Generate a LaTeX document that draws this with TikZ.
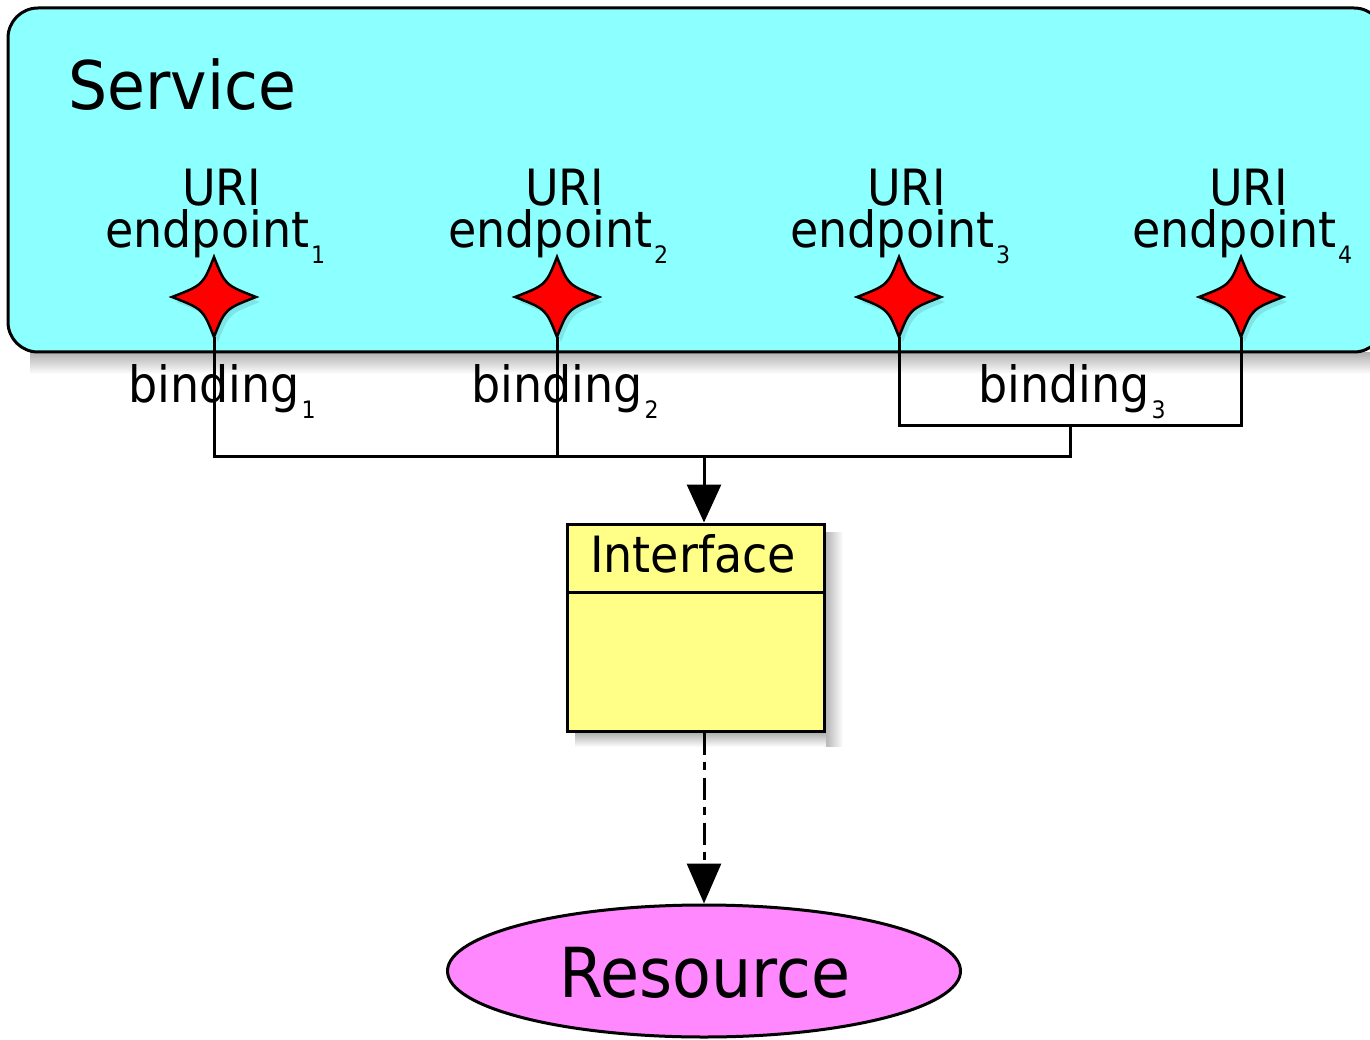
\documentclass[tikz,border=0pt]{standalone}
\usepackage{fontspec}
\setmainfont[FakeStretch=0.92]{DejaVu Sans}
\usetikzlibrary{arrows.meta,shapes.geometric,calc}
\definecolor{svcfill}{RGB}{140,255,255}
\definecolor{ifcfill}{RGB}{255,255,136}
\definecolor{resfill}{RGB}{255,136,255}
\newcommand\fsz[1]{\fontsize{#1}{#1}\selectfont}
\newcommand\subs[1]{\hspace{2pt}\raisebox{-16pt}{\fsz{24}#1}}
\begin{document}
\begin{tikzpicture}[x=1pt,y=-1pt,
  lbl/.style={inner sep=0pt, anchor=base west, font=\fsz{50}},
  conn/.style={line width=3pt, line join=miter},
  starshape/.pic={
    \fill[black,opacity=0.10] (4,-35) .. controls (15,-7) .. (46,5) .. controls (15,17) .. (4,45) .. controls (-7,17) .. (-38,5) .. controls (-7,-7) .. cycle;
    \draw[fill=red, line width=2.5pt, line join=miter] (0,-40) .. controls (11,-12) .. (42,0) .. controls (11,12) .. (0,40) .. controls (-11,12) .. (-42,0) .. controls (-11,-12) .. cycle;
  }]
\clip (0,0) rectangle (1370,1040);
\fill[white] (0,0) rectangle (1370,1040);
% service shadow
\shade[top color=black!30, bottom color=white] (30,353) rectangle (1370,374);
% service box
\node[draw, fill=svcfill, rounded corners=30pt, minimum width=1376pt, minimum height=344pt, inner sep=0pt, line width=3pt] (svc) at (696,180) {};
\node[inner sep=0pt, anchor=base west, font=\fsz{67}] (svctxt) at (68,110) {Service};
% endpoints
\foreach \i/\x in {1/214,2/557,3/899,4/1241}{
  \coordinate (e\i) at (\x,297);
  \coordinate (b\i) at (\x,337);
  \pic at (e\i) {starshape};
  \node[lbl] (uri\i) at (\x-32,206) {URI};
  \node[lbl] (ep\i) at (\x-109,248) {endpoint\subs{\i}};
}
% binding labels
\node[lbl] (bd1) at (128,402) {binding\subs{1}};
\node[lbl] (bd2) at (471,402) {binding\subs{2}};
\node[lbl] (bd3) at (978,402) {binding\subs{3}};
% connectors
\coordinate (j) at (704,456);
\coordinate (j3) at (1070,425);
\draw[conn] (b1) |- (j3 |- j) -- (j3);
\draw[conn] (b2) -- (b2 |- j);
\draw[conn] (b3) |- (j3) -| (b4);
% interface shadow
\shade[left color=black!30, right color=white] (825,532) rectangle (843,746);
\shade[top color=black!30, bottom color=white] (575,733) rectangle (826,747);
% interface
\node[draw, fill=ifcfill, minimum width=257pt, minimum height=207pt, inner sep=0pt, line width=3pt] (iface) at (695.5,627.5) {};
\draw[line width=3pt] ([yshift=-70pt]iface.north west) -- ([yshift=-70pt]iface.north east);
\node[lbl] (ifctxt) at (590,572) {Interface};
% resource
\node[ellipse, draw, fill=resfill, minimum width=513pt, minimum height=132pt, inner sep=0pt, line width=3pt] (res) at (704,971) {};
\node[inner sep=0pt, anchor=base, font=\fsz{69}] (restxt) at (705,997) {Resource};
% arrows
\draw[conn, -{Triangle[width=34pt,length=38pt]}] (j) -- (j |- iface.north);
\draw[conn, dash pattern=on 22pt off 7pt on 8pt off 8pt, -{Triangle[width=34pt,length=40pt]}] (j |- iface.south) -- (j |- res.north);
\end{tikzpicture}
\end{document}
